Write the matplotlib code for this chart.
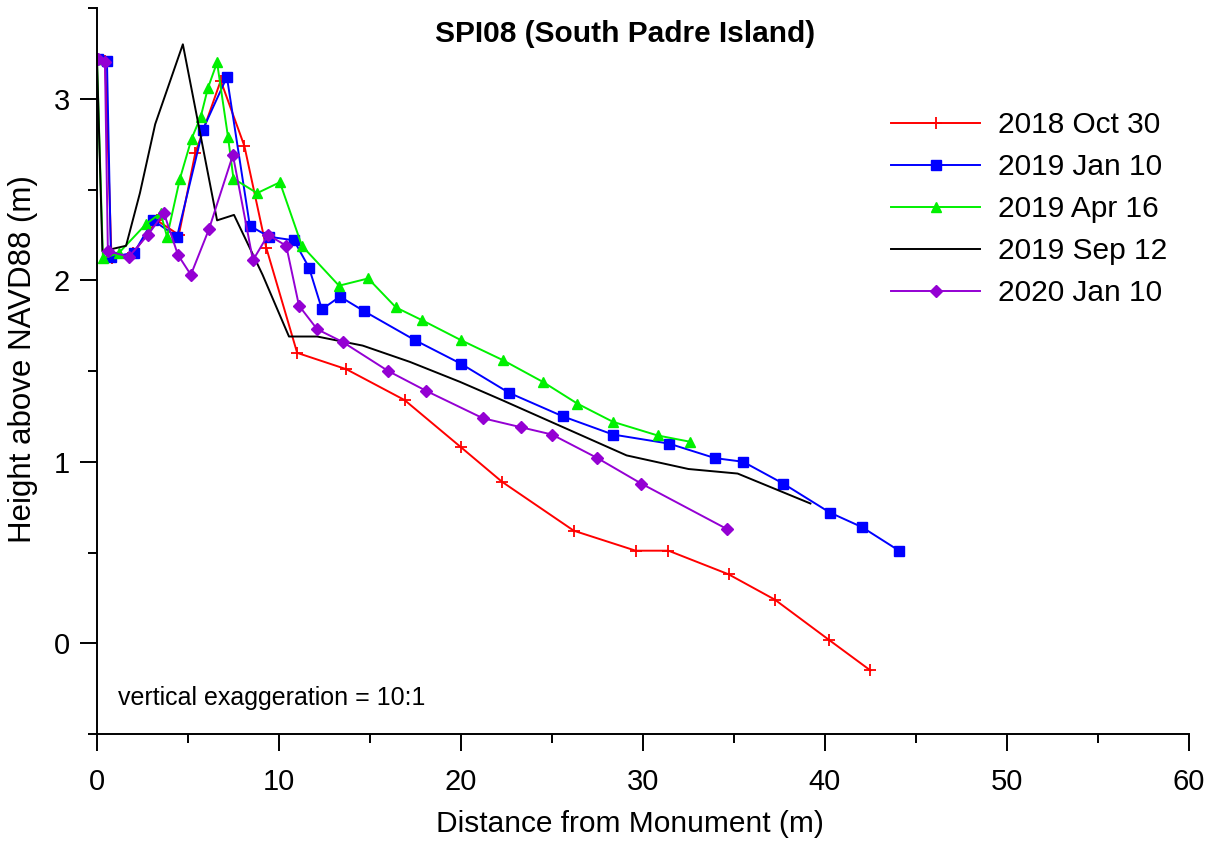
import matplotlib
matplotlib.use("Agg")
import matplotlib.pyplot as plt
from matplotlib.ticker import MultipleLocator

plt.rcParams['font.family'] = ['Liberation Sans', 'DejaVu Sans']

labels = ["2018 Oct 30", "2019 Jan 10", "2019 Apr 16", "2019 Sep 12", "2020 Jan 10"]

x_2018 = [0.0, 0.45, 0.8, 2.0, 3.3, 4.5, 5.4, 6.8, 8.1, 9.3, 11.0, 13.7, 16.9, 20.0, 22.25,
          26.2, 29.6, 31.4, 34.7, 37.25, 40.2, 42.5]
y_2018 = [3.22, 3.21, 2.12, 2.15, 2.33, 2.25, 2.70, 3.10, 2.74, 2.18, 1.60, 1.51, 1.34, 1.08, 0.89,
          0.62, 0.51, 0.51, 0.38, 0.24, 0.02, -0.15]

x_2019a = [0.05, 0.55, 0.77, 2.03, 3.08, 4.4, 5.82, 7.14, 8.4, 9.45, 10.82, 11.65, 12.36, 13.35,
           14.67, 17.47, 20.0, 22.64, 25.6, 28.35, 31.43, 33.96, 35.5, 37.7, 40.27, 42.03, 44.07]
y_2019a = [3.22, 3.21, 2.13, 2.15, 2.33, 2.24, 2.83, 3.12, 2.30, 2.24, 2.22, 2.07, 1.84, 1.91,
           1.83, 1.67, 1.54, 1.38, 1.25, 1.15, 1.10, 1.02, 1.00, 0.88, 0.72, 0.64, 0.51]

x_2019b = [0.0, 0.33, 1.2, 2.7, 3.5, 3.85, 4.56, 5.2, 5.7, 6.1, 6.6, 7.2, 7.5, 8.8, 10.05, 11.26,
           13.3, 14.9, 16.43, 17.86, 20.0, 22.3, 24.5, 26.4, 28.35, 30.8, 32.6]
y_2019b = [3.22, 2.12, 2.15, 2.31, 2.37, 2.24, 2.56, 2.78, 2.90, 3.06, 3.20, 2.79, 2.56, 2.48, 2.54, 2.19,
           1.97, 2.01, 1.85, 1.78, 1.67, 1.56, 1.44, 1.32, 1.22, 1.145, 1.11]

x_2019c = [0.0, 0.3, 1.6, 2.36, 3.2, 4.72, 6.6, 7.53, 9.1, 10.55, 12.1, 14.6, 17.2, 19.95, 22.25,
           29.1, 32.5, 35.2, 39.2]
y_2019c = [3.22, 2.16, 2.19, 2.48, 2.86, 3.30, 2.33, 2.36, 2.03, 1.69, 1.69, 1.64, 1.55, 1.44, 1.34,
           1.035, 0.96, 0.935, 0.77]

x_2020 = [0.05, 0.44, 0.6, 1.76, 2.8, 3.68, 4.45, 5.16, 6.15, 7.47, 8.57, 9.4, 10.4, 11.1, 12.1,
          13.5, 16.0, 18.1, 21.2, 23.3, 25.0, 27.5, 29.9, 34.6]
y_2020 = [3.22, 3.20, 2.16, 2.13, 2.25, 2.37, 2.14, 2.03, 2.28, 2.69, 2.11, 2.25, 2.19, 1.86, 1.73,
          1.66, 1.50, 1.39, 1.24, 1.19, 1.15, 1.02, 0.88, 0.63]

fig = plt.figure(figsize=(12.21, 8.43), dpi=100)
ax = fig.add_axes([0.0794, 0.1293, 0.8944, 0.8612])

lw = 1.4
ax.plot(x_2018, y_2018, color='#ff0000', lw=lw, marker='+', ms=9, mew=1.3, label=labels[0])
ax.plot(x_2019a, y_2019a, color='#0000ff', lw=lw, marker='s', ms=7.3, label=labels[1])
ax.plot(x_2019b, y_2019b, color='#00f000', lw=lw, marker='^', ms=7.3, label=labels[2])
ax.plot(x_2019c, y_2019c, color='black', lw=lw, label=labels[3])
ax.plot(x_2020, y_2020, color='#9400d3', lw=lw, marker='D', ms=6.3, label=labels[4])

ax.set_xlim(0, 60)
ax.set_ylim(-0.5, 3.5)
ax.xaxis.set_major_locator(MultipleLocator(10))
ax.xaxis.set_minor_locator(MultipleLocator(5))
ax.yaxis.set_major_locator(MultipleLocator(1))
ax.yaxis.set_minor_locator(MultipleLocator(0.5))
ax.spines['top'].set_visible(False)
ax.spines['right'].set_visible(False)
for s in ['left', 'bottom']:
    ax.spines[s].set_linewidth(1.4)
ax.tick_params(which='major', direction='out', length=12.5, width=1.4, labelsize=21, pad=7)
ax.tick_params(which='minor', direction='out', length=6.5, width=1.4)
ax.tick_params(axis='x', which='major', pad=12)

ax.set_xlabel("Distance from Monument (m)", fontsize=21.5, labelpad=10, x=0.488)
ax.set_ylabel("Height above NAVD88 (m)", fontsize=22.5, labelpad=11, y=0.5165)
ax.text(0.484, 0.964, "SPI08 (South Padre Island)", transform=ax.transAxes,
        ha='center', va='center', fontsize=21.5, fontweight='bold')
ax.text(0.0192, 0.049, "vertical exaggeration = 10:1", transform=ax.transAxes,
        ha='left', va='center', fontsize=18)

ax.legend(loc='upper left', bbox_to_anchor=(0.727, 0.858), frameon=False, fontsize=21.5,
          handlelength=3.0, labelspacing=0.47, handletextpad=0.6, borderpad=0,
          borderaxespad=0, numpoints=1)

fig.savefig("out.png", dpi=100)
